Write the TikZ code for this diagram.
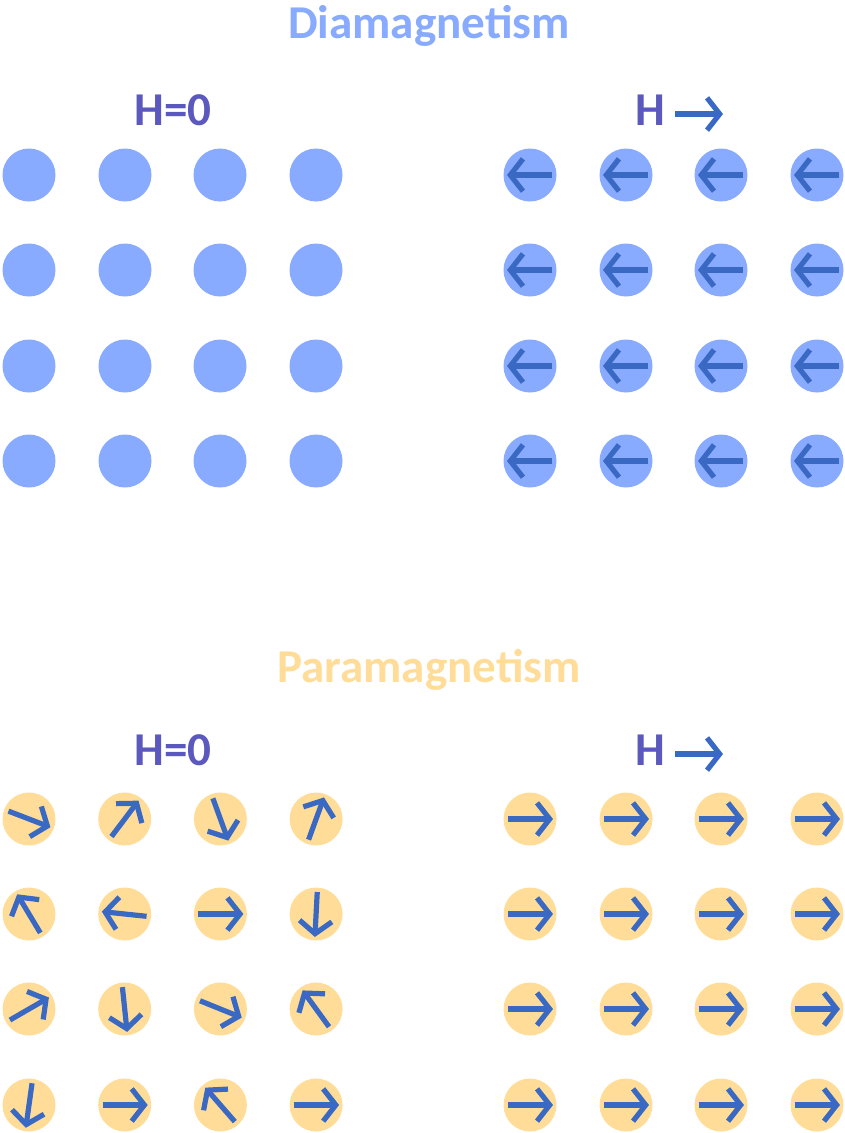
\documentclass[tikz,border=0pt]{standalone}
\usepackage{fontspec}
\setmainfont{Carlito}
\usepackage{tikz}
\usetikzlibrary{arrows.meta}

\definecolor{diablue}{HTML}{88AAFF}
\definecolor{paraorange}{HTML}{FFDD99}
\definecolor{labelblue}{HTML}{5B58BE}
\definecolor{spinblue}{HTML}{3A69C4}

\begin{document}
\begin{tikzpicture}[x=0.025cm, y=0.025cm,
				dia/.style={circle, fill=diablue, minimum size=53*0.025cm, inner sep=0pt},
				para/.style={circle, fill=paraorange, minimum size=53*0.025cm, inner sep=0pt},
				title/.style={font=\fontsize{33.5}{40}\selectfont\bfseries, anchor=base},
				lbl/.style={font=\fontsize{33.5}{40}\selectfont\bfseries, text=labelblue, anchor=base},
				spin/.style={draw=spinblue, line width=3.7pt, -{Straight Barb[length=9pt, width=23pt, line cap=butt]}},
				>=latex]
				\useasboundingbox (0,0) rectangle (845,-1133);
				% titles
				\node[title, text=diablue]    (tdia)  at (429,-38)  {Diamagnetism};
				\node[title, text=paraorange] (tpara) at (429,-682) {Paramagnetism};
				% field labels
				\node[lbl] (h0dia)  at (173,-125) {H=0};
				\node[lbl] (hdia)   at (650,-125) {H};
				\node[lbl] (h0para) at (173,-765) {H=0};
				\node[lbl] (hpara)  at (650,-765) {H};
				\coordinate (hdiaA) at (675,-114);  \coordinate (hdiaB) at (723,-114);
				\coordinate (hparaA) at (675,-754); \coordinate (hparaB) at (723,-754);
				\draw[spin] (hdiaA) -- (hdiaB);
				\draw[spin] (hparaA) -- (hparaB);
				% diamagnetism, H=0
				\foreach \r/\y in {1/175,2/270,3/366,4/461}
					\foreach \c/\x in {1/29,2/125,3/220,4/316}
						\node[dia] (dz-\r-\c) at (\x,-\y) {};
				% diamagnetism, H on
				\foreach \r/\y in {1/175,2/270,3/366,4/461}
					\foreach \c/\x in {1/530,2/626,3/721,4/817} {
						\node[dia] (dh-\r-\c) at (\x,-\y) {};
						\draw[spin] ([shift={(22,0)}]dh-\r-\c.center) -- ([shift={(-23,0)}]dh-\r-\c.center);
					}
				% paramagnetism, H=0 (random spins)
				\foreach \r/\y/\angles in {1/819/{-21,53,-70,70},2/914/{121,174,0,-93},3/1009/{30,-84,-22,126},4/1105/{-98,0,131,0}}
					\foreach \a [count=\c] in \angles {
						\pgfmathsetmacro{\x}{29+95.7*(\c-1)}
						\node[para] (pz-\r-\c) at (\x,-\y) {};
						\draw[spin] ([shift={(\a+180:22)}]pz-\r-\c.center) -- ([shift={(\a:23)}]pz-\r-\c.center);
					}
				% paramagnetism, H on
				\foreach \r/\y in {1/819,2/914,3/1009,4/1105}
					\foreach \c/\x in {1/530,2/626,3/721,4/817} {
						\node[para] (ph-\r-\c) at (\x,-\y) {};
						\draw[spin] ([shift={(-22,0)}]ph-\r-\c.center) -- ([shift={(23,0)}]ph-\r-\c.center);
					}
			\end{tikzpicture}
\end{document}
